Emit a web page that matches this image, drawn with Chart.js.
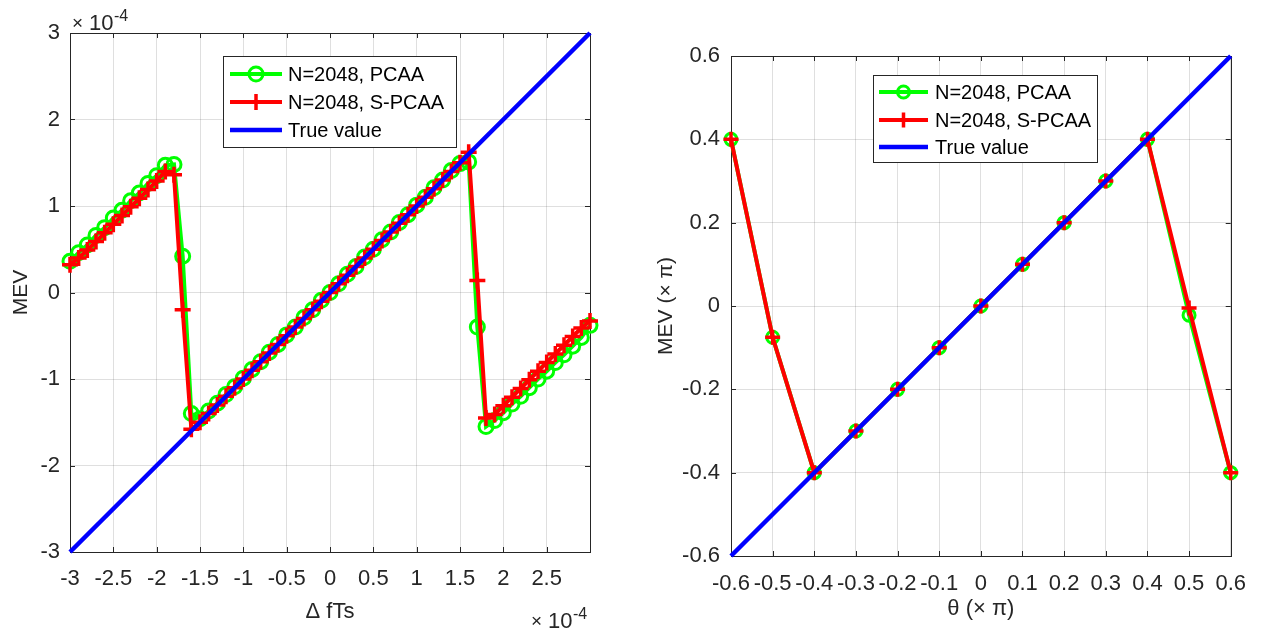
<!DOCTYPE html>
<html>
<head>
<meta charset="utf-8">
<script src="https://cdn.jsdelivr.net/npm/chart.js@4.4.0/dist/chart.umd.min.js"></script>
<style>
html,body{margin:0;padding:0;background:#fff;}
#wrap{position:relative;width:1261px;height:633px;overflow:hidden;}
.c{position:absolute;top:0;height:633px;}
#b1{left:0;width:630px;}
#b2{left:630px;width:631px;}
</style>
</head>
<body>
<div id="wrap">
  <div class="c" id="b1"><canvas id="c1"></canvas></div>
  <div class="c" id="b2"><canvas id="c2"></canvas></div>
</div>
<script>
// ---------------- Left chart data (ΔfTs, ×10^-4) ----------------
const dfX = [-3.0,-2.9,-2.8,-2.7,-2.6,-2.5,-2.4,-2.3,-2.2,-2.1,-2.0,-1.9,-1.8,-1.7,-1.6,-1.5,-1.4,-1.3,-1.2,-1.1,
             -1.0,-0.9,-0.8,-0.7,-0.6,-0.5,-0.4,-0.3,-0.2,-0.1,0.0,0.1,0.2,0.3,0.4,0.5,0.6,0.7,0.8,0.9,
             1.0,1.1,1.2,1.3,1.4,1.5,1.6,1.7,1.8,1.9,2.0,2.1,2.2,2.3,2.4,2.5,2.6,2.7,2.8,2.9,3.0];
const dfPCAA = [0.36,0.46,0.55,0.66,0.75,0.86,0.95,1.06,1.15,1.26,1.35,1.47,1.48,0.42,-1.40,-1.46,-1.37,-1.28,-1.18,-1.09,
                -0.99,-0.89,-0.80,-0.69,-0.60,-0.49,-0.40,-0.29,-0.20,-0.09,0.00,0.10,0.21,0.30,0.41,0.50,0.61,0.70,0.81,0.90,
                1.01,1.10,1.21,1.30,1.41,1.49,1.51,-0.40,-1.55,-1.48,-1.39,-1.29,-1.20,-1.10,-1.00,-0.91,-0.81,-0.72,-0.62,-0.52,-0.38];
const dfSPCAA = [0.32,0.40,0.49,0.59,0.69,0.79,0.89,0.99,1.09,1.19,1.29,1.40,1.36,-0.20,-1.58,-1.50,-1.40,-1.30,-1.20,-1.10,
                 -1.00,-0.90,-0.80,-0.70,-0.60,-0.50,-0.40,-0.30,-0.20,-0.10,0.00,0.10,0.20,0.30,0.40,0.50,0.60,0.70,0.80,0.90,
                 1.00,1.10,1.20,1.30,1.40,1.50,1.62,0.14,-1.45,-1.41,-1.31,-1.21,-1.11,-1.01,-0.91,-0.81,-0.71,-0.61,-0.51,-0.41,-0.33];
const dfTrueX = [-3, 3];
const dfTrueY = [-3, 3];

// ---------------- Right chart data (θ, ×π) ----------------
const thX = [-0.6,-0.5,-0.4,-0.3,-0.2,-0.1,0.0,0.1,0.2,0.3,0.4,0.5,0.6];
const thPCAA = [0.40,-0.075,-0.40,-0.30,-0.20,-0.10,0.00,0.10,0.20,0.30,0.40,-0.022,-0.40];
const thSPCAA = [0.40,-0.075,-0.40,-0.30,-0.20,-0.10,0.00,0.10,0.20,0.30,0.40,-0.005,-0.40];
const thTrueX = [-0.6, 0.6];
const thTrueY = [-0.6, 0.6];

const legendLabels = ['N=2048, PCAA', 'N=2048, S-PCAA', 'True value'];

// ---------------- helpers ----------------
const FONT = "'Liberation Sans', Arial, Helvetica, sans-serif";
const INK = '#262626';
Chart.defaults.font.family = FONT;
Chart.defaults.color = INK;

function pts(xs, ys) { return xs.map((x, i) => ({x: x, y: ys[i]})); }
function fmt(v) { const r = Math.round(v * 10) / 10; return (Object.is(r, -0) ? 0 : r).toString(); }

function drawMarker(ctx, style, cx, cy, r, color, lw) {
  ctx.save();
  ctx.strokeStyle = color; ctx.lineWidth = lw;
  ctx.beginPath();
  if (style === 'circle') {
    ctx.arc(cx, cy, r, 0, Math.PI * 2);
  } else if (style === 'cross') {
    ctx.moveTo(cx - r, cy); ctx.lineTo(cx + r, cy);
    ctx.moveTo(cx, cy - r); ctx.lineTo(cx, cy + r);
  }
  ctx.stroke();
  ctx.restore();
}

const axesBox = {
  id: 'axesBox',
  beforeDatasetsDraw(chart) {
    const {ctx, chartArea: a, scales: {x, y}} = chart;
    ctx.save();
    ctx.strokeStyle = INK; ctx.lineWidth = 1;
    ctx.beginPath();
    const tl = 5;
    x.ticks.forEach(t => {
      const px = Math.round(x.getPixelForValue(t.value)) + 0.5;
      ctx.moveTo(px, a.bottom); ctx.lineTo(px, a.bottom - tl);
      ctx.moveTo(px, a.top); ctx.lineTo(px, a.top + tl);
    });
    y.ticks.forEach(t => {
      const py = Math.round(y.getPixelForValue(t.value)) + 0.5;
      ctx.moveTo(a.left, py); ctx.lineTo(a.left + tl, py);
      ctx.moveTo(a.right, py); ctx.lineTo(a.right - tl, py);
    });
    ctx.stroke();
    ctx.strokeRect(Math.round(a.left) + 0.5, Math.round(a.top) + 0.5,
                   Math.round(a.right - a.left), Math.round(a.bottom - a.top));
    ctx.restore();
  }
};

const boxLegend = {
  id: 'boxLegend',
  afterDatasetsDraw(chart, args, o) {
    if (!o || !o.box) return;
    const ctx = chart.ctx;
    ctx.save();
    ctx.fillStyle = '#fff';
    ctx.fillRect(o.box[0], o.box[1], o.box[2], o.box[3]);
    ctx.strokeStyle = INK; ctx.lineWidth = 1;
    ctx.strokeRect(o.box[0] + 0.5, o.box[1] + 0.5, o.box[2], o.box[3]);
    chart.data.datasets.forEach((ds, i) => {
      const yy = o.rows[i];
      ctx.strokeStyle = ds.borderColor; ctx.lineWidth = ds.borderWidth;
      ctx.beginPath(); ctx.moveTo(o.x0, yy); ctx.lineTo(o.x1, yy); ctx.stroke();
      if (ds.pointRadius > 0) {
        drawMarker(ctx, ds.pointStyle, (o.x0 + o.x1) / 2, yy, ds.pointRadius, ds.pointBorderColor || ds.borderColor, ds.pointBorderWidth);
      }
      ctx.fillStyle = '#000';
      ctx.font = o.fontSize + 'px ' + FONT;
      ctx.textBaseline = 'middle'; ctx.textAlign = 'left';
      ctx.fillText(ds.label, o.tx, yy + 1);
    });
    ctx.restore();
  }
};

const expLabels = {
  id: 'expLabels',
  afterDraw(chart, args, o) {
    if (!o || !o.items) return;
    const ctx = chart.ctx;
    ctx.save();
    ctx.fillStyle = INK; ctx.textAlign = 'left'; ctx.textBaseline = 'alphabetic';
    o.items.forEach(it => {
      ctx.font = '19px ' + FONT;
      ctx.fillText('\u00d7', it.x, it.y - 1);
      ctx.font = '22px ' + FONT;
      ctx.fillText('10', it.x + 17, it.y);
      ctx.font = '16px ' + FONT;
      ctx.fillText('-4', it.x + 42, it.y - 9);
    });
    ctx.restore();
  }
};

function makeDatasets(xs, p, s, tx, ty, circR, crossR) {
  return [
    { label: legendLabels[0], data: pts(xs, p), borderColor: '#00ff00', backgroundColor: 'rgba(0,0,0,0)',
      borderWidth: 4, pointStyle: 'circle', pointRadius: circR, pointBorderWidth: 3,
      pointBorderColor: '#00ff00', pointBackgroundColor: 'rgba(0,0,0,0)', pointHoverRadius: circR,
      tension: 0, clip: false, order: 3 },
    { label: legendLabels[1], data: pts(xs, s), borderColor: '#ff0000', backgroundColor: 'rgba(0,0,0,0)',
      borderWidth: 4, pointStyle: 'cross', pointRadius: crossR, pointBorderWidth: 3.5,
      pointBorderColor: '#ff0000', pointBackgroundColor: '#ff0000', pointHoverRadius: crossR,
      tension: 0, clip: false, order: 2 },
    { label: legendLabels[2], data: pts(tx, ty), borderColor: '#0000ff', backgroundColor: 'rgba(0,0,0,0)',
      borderWidth: 4.5, pointRadius: 0, pointBorderWidth: 0, pointHoverRadius: 0,
      tension: 0, clip: false, order: 1 }
  ];
}

const gridColor = 'rgba(38,38,38,0.15)';

// ---------------- Left chart ----------------
new Chart(document.getElementById('c1'), {
  type: 'line',
  data: { datasets: makeDatasets(dfX, dfPCAA, dfSPCAA, dfTrueX, dfTrueY, 7, 8) },
  plugins: [axesBox, boxLegend, expLabels],
  options: {
    responsive: true, maintainAspectRatio: false, animation: false,
    layout: { padding: { top: 33, right: 40, left: 0, bottom: 8 } },
    plugins: {
      legend: { display: false }, tooltip: { enabled: false },
      boxLegend: { box: [223, 56, 233, 91], rows: [74, 102, 130], x0: 230, x1: 282, tx: 288, fontSize: 20 },
      expLabels: { items: [ { x: 72, y: 30 }, { x: 531, y: 628 } ] }
    },
    scales: {
      x: {
        type: 'linear', min: -3, max: 3,
        afterFit(s) { s.height = 73; },
        grid: { color: gridColor, lineWidth: 1, drawTicks: false },
        border: { display: false },
        ticks: { stepSize: 0.5, padding: 14, maxRotation: 0, autoSkip: false,
                 font: { size: 22 }, color: INK,
                 callback: v => (Math.abs(v - 3) < 1e-9 ? '' : fmt(v)) },
        title: { display: true, text: '\u0394 fTs', font: { size: 22 }, color: INK, padding: 0 }
      },
      y: {
        type: 'linear', min: -3, max: 3,
        afterFit(s) { s.width = 70; },
        grid: { color: gridColor, lineWidth: 1, drawTicks: false },
        border: { display: false },
        ticks: { stepSize: 1, padding: 10, font: { size: 22 }, color: INK, callback: v => fmt(v) },
        title: { display: true, text: 'MEV', font: { size: 21 }, color: INK, padding: { top: 9, bottom: 0 } }
      }
    }
  }
});

// ---------------- Right chart ----------------
new Chart(document.getElementById('c2'), {
  type: 'line',
  data: { datasets: makeDatasets(thX, thPCAA, thSPCAA, thTrueX, thTrueY, 6, 7.5) },
  plugins: [axesBox, boxLegend],
  options: {
    responsive: true, maintainAspectRatio: false, animation: false,
    layout: { padding: { top: 56, right: 30, left: 0, bottom: 11 } },
    plugins: {
      legend: { display: false }, tooltip: { enabled: false },
      boxLegend: { box: [243, 75, 224, 87], rows: [92, 120, 147], x0: 249, x1: 298, tx: 305, fontSize: 20 }
    },
    scales: {
      x: {
        type: 'linear', min: -0.6, max: 0.6,
        afterFit(s) { s.height = 66; },
        grid: { color: gridColor, lineWidth: 1, drawTicks: false },
        border: { display: false },
        ticks: { stepSize: 0.1, padding: 15, maxRotation: 0, autoSkip: false,
                 font: { size: 22 }, color: INK, callback: v => fmt(v) },
        title: { display: true, text: '\u03b8 (\u00d7 \u03c0)', font: { size: 22 }, color: INK, padding: 0 }
      },
      y: {
        type: 'linear', min: -0.6, max: 0.6,
        afterFit(s) { s.width = 101; },
        grid: { color: gridColor, lineWidth: 1, drawTicks: false },
        border: { display: false },
        ticks: { stepSize: 0.2, padding: 11, font: { size: 22 }, color: INK, callback: v => fmt(v) },
        title: { display: true, text: 'MEV (\u00d7 \u03c0)', font: { size: 21 }, color: INK, padding: { top: 24, bottom: 0 } }
      }
    }
  }
});
</script>
</body>
</html>
